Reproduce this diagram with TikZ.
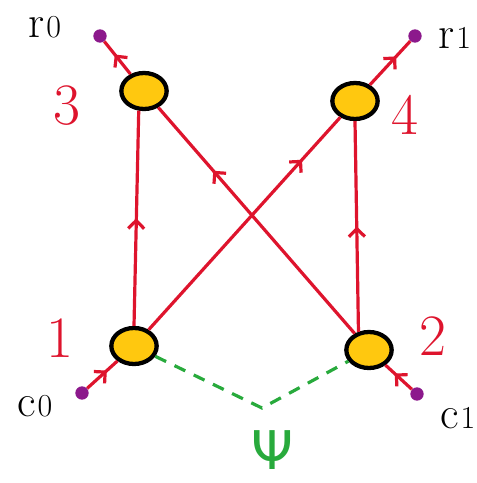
\documentclass[tikz,border=0pt]{standalone}
\usepackage{fontspec}
\newfontfamily\dv{DejaVu Sans}
\usetikzlibrary{arrows.meta,shapes.geometric,decorations.markings}
\definecolor{pen}{RGB}{222,20,45}
\definecolor{gold}{RGB}{255,200,15}
\definecolor{dotc}{RGB}{140,25,140}
\definecolor{grn}{RGB}{40,170,60}
\newcommand{\subl}[2]{#1\kern1pt{\fontsize{24}{24}\selectfont #2}}
\tikzset{
  vert/.style={ellipse,draw=black,line width=3.2pt,fill=gold,minimum width=34pt,minimum height=27pt,inner sep=0pt},
  dotn/.style={circle,fill=dotc,minimum size=10pt,inner sep=0pt},
  redl/.style={color=pen,line width=2.4pt},
  marr/.style={postaction={decorate},decoration={markings,mark=at position #1 with {\arrow{Straight Barb[length=6pt,width=12pt]}}}},
  greenl/.style={color=grn,line width=2.4pt,dash pattern=on 9pt off 7pt},
  numl/.style={text=pen,font=\fontsize{44}{44}\selectfont},
  lab/.style={text=black,font=\fontsize{34}{34}\selectfont,inner sep=0pt},
}
\begin{document}
\begin{tikzpicture}[x=0.75pt,y=-0.75pt]
\useasboundingbox (0,0) rectangle (477,483);
% vertices
\node[vert] (n3) at (144,91) {};
\node[vert] (n4) at (355,101) {};
\node[vert] (n1) at (134,346) {};
\node[vert] (n2) at (369,350) {};
% dots
\node[dotn] (r0) at (100,36) {};
\node[dotn] (r1) at (415,36) {};
\node[dotn] (c0) at (82,393) {};
\node[dotn] (c1) at (417,394) {};
% labels
\node[numl] (l3) at (67,106) {3};
\node[numl] (l4) at (405,115) {4};
\node[numl] (l1) at (60,338) {1};
\node[numl] (l2) at (433,336) {2};
\node[lab,anchor=base] (tr0) at (45,37) {\subl{r}{0}};
\node[lab,anchor=base] (tr1) at (455,48) {\subl{r}{1}};
\node[lab,anchor=base] (tc0) at (35,416) {\subl{c}{0}};
\node[lab,anchor=base] (tc1) at (458,428) {\subl{c}{1}};
\coordinate (psi) at (262,408);
\node[text=grn,font=\dv\fontsize{40}{40}\selectfont] (tpsi) at (272,450) {Ψ};
% edges
\draw[redl,marr=0.5] (n1.north) -- (n3.-105);
\draw[redl,marr=0.5] (n2.120) -- (n4.south);
\draw[redl,marr=0.8] (n1) -- (n4);
\draw[redl,marr=0.72] (n2) -- (n3);
\draw[redl,marr=0.6] (n3) -- (r0);
\draw[redl,marr=0.65] (n4) -- (r1);
\draw[redl,marr=0.65] (c0) -- (n1);
\draw[redl,marr=0.65] (c1) -- (n2);
\draw[greenl] (n1) -- (psi) -- (n2);
\end{tikzpicture}
\end{document}
